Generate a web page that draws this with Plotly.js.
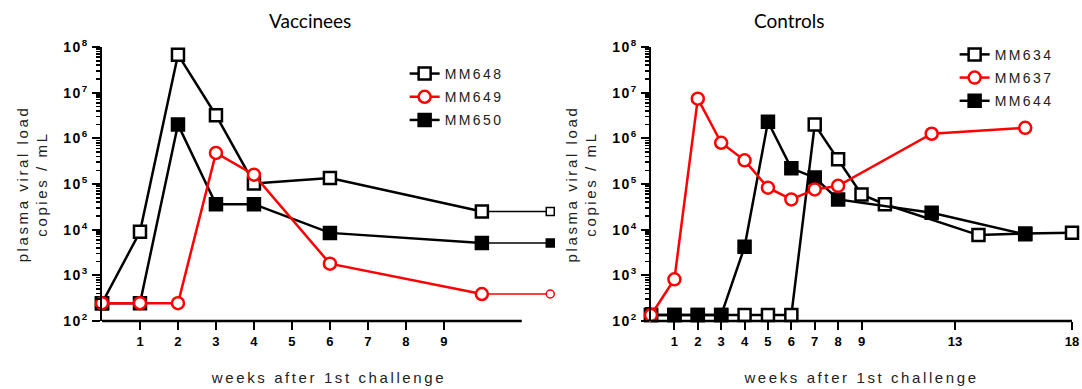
<!DOCTYPE html>
<html>
<head>
<meta charset="utf-8">
<script src="https://cdn.plot.ly/plotly-3.0.1.min.js"></script>
<style>
  html, body { margin: 0; padding: 0; background: #fff; }
  #chart { width: 1082px; height: 389px; }
  text.legendtext, .legend text, .legend2 text, g[class*="legend"] text { letter-spacing: 2.4px !important; }
  g.scrollbox, g[class*="legend"] g { clip-path: none !important; }
  .xtitle, .ytitle, .x2title, .y2title { letter-spacing: 2.6px; }
  .ytick text, .y2tick text { letter-spacing: 1.5px; }
</style>
</head>
<body>
<div id="chart"></div>
<script>
// ---------- data ----------
// Vaccinees (last week value is the thin extension point)
const vacWeeks = [0, 1, 2, 3, 4, 6, 10, 11.8];
const mm648 = [245, 9000, 68000000, 3200000, 103000, 135000, 25000, 25000];
const mm649 = [245, 245, 245, 480000, 160000, 1800, 390, 390];
const mm650 = [245, 245, 2000000, 36000, 36000, 8500, 5100, 5100];
const vacTickVals = [1, 2, 3, 4, 5, 6, 7, 8, 9];

// Controls
const weeks634 = [0, 1, 2, 3, 4, 5, 6, 7, 8, 9, 10, 14, 16, 18];
const mm634 = [135, 135, 135, 135, 135, 135, 135, 2000000, 350000, 59000, 36000, 7600, 8200, 8600];
const weeks637 = [0, 1, 2, 3, 4, 5, 6, 7, 8, 12, 16];
const mm637 = [135, 820, 7400000, 800000, 330000, 83000, 46000, 76000, 91000, 1260000, 1700000];
const weeks644 = [0, 1, 2, 3, 4, 5, 6, 7, 8, 12, 16];
const mm644 = [135, 135, 135, 135, 4200, 2300000, 220000, 138000, 46000, 23500, 7900];
const ctlTickVals = [1, 2, 3, 4, 5, 6, 7, 8, 9, 13, 18];

const yTickExps = [2, 3, 4, 5, 6, 7, 8];

// ---------- styling ----------
const FONT = "Liberation Sans, Arial, sans-serif";
const BLACK = "#000000", RED = "#ff0000";
const yTickVals = yTickExps.map(e => Math.pow(10, e));
const yTickText = yTickExps.map(e => "10<sup>" + e + "</sup>");
const yMinor = [];
yTickExps.slice(0, -1).forEach(e => { for (let k = 2; k <= 9; k++) yMinor.push(k * Math.pow(10, e)); });

function mk(symbol, color, size, lw) {
  const filled = symbol === "square";
  return { symbol: filled ? "square" : (symbol === "square-open" ? "square" : "circle"),
           size: size, color: filled ? color : "#ffffff", line: { color: color, width: lw } };
}
function mainTrace(name, x, y, color, symbol, xa, ya, legend, rank) {
  return {
    type: "scatter", mode: "lines+markers", name: name, x: x, y: y,
    xaxis: xa, yaxis: ya, legend: legend, legendgroup: name, legendrank: rank,
    cliponaxis: false,
    line: { color: color, width: 2.5 },
    marker: mk(symbol, color, 12, 2.5)
  };
}
function extTrace(name, x, y, color, symbol) {
  return {
    type: "scatter", mode: "lines+markers", name: name, x: x.slice(-2), y: y.slice(-2),
    xaxis: "x", yaxis: "y", showlegend: false, legendgroup: name, cliponaxis: false,
    line: { color: color, width: 1.5 },
    marker: mk(symbol, color, 8, 1.5)
  };
}

const data = [
  extTrace("MM648", vacWeeks, mm648, BLACK, "square-open"),
  extTrace("MM650", vacWeeks, mm650, BLACK, "square"),
  extTrace("MM649", vacWeeks, mm649, RED, "circle-open"),
  mainTrace("MM648", vacWeeks.slice(0, -1), mm648.slice(0, -1), BLACK, "square-open", "x", "y", "legend", 1),
  mainTrace("MM650", vacWeeks.slice(0, -1), mm650.slice(0, -1), BLACK, "square", "x", "y", "legend", 3),
  mainTrace("MM649", vacWeeks.slice(0, -1), mm649.slice(0, -1), RED, "circle-open", "x", "y", "legend", 2),
  mainTrace("MM634", weeks634, mm634, BLACK, "square-open", "x2", "y2", "legend2", 1),
  mainTrace("MM644", weeks644, mm644, BLACK, "square", "x2", "y2", "legend2", 3),
  mainTrace("MM637", weeks637, mm637, RED, "circle-open", "x2", "y2", "legend2", 2)
];

function yAxis(anchor) {
  return {
    type: "log", range: [2, 8], anchor: anchor,
    showgrid: false, zeroline: false, showline: true, linecolor: BLACK, linewidth: 2.5,
    ticks: "outside", ticklen: 8, tickwidth: 2, tickcolor: BLACK,
    tickvals: yTickVals, ticktext: yTickText,
    tickfont: { family: FONT, size: 14, color: BLACK, weight: "bold" },
    minor: { tickvals: yMinor, ticks: "outside", ticklen: 4, tickwidth: 1.5, tickcolor: BLACK },
    title: { text: "plasma viral load<br>copies / mL", font: { family: FONT, size: 15, color: "#222" }, standoff: 12 }
  };
}
function xAxis(domain, range, tickvals, anchor) {
  return {
    domain: domain, range: range, anchor: anchor,
    showgrid: false, zeroline: false, showline: false,
    ticks: "outside", ticklen: 8, tickwidth: 2, tickcolor: BLACK,
    tickvals: tickvals, ticktext: tickvals.map(String),
    tickfont: { family: FONT, size: 13, color: BLACK, weight: "bold" },
    title: { text: "weeks after 1st challenge", font: { family: FONT, size: 15, color: "#222" }, standoff: 24 }
  };
}

const legendBase = {
  font: { family: FONT, size: 14, color: "#222" },
  bgcolor: "rgba(0,0,0,0)", traceorder: "grouped", tracegroupgap: 2,
  xanchor: "left", yanchor: "top", itemwidth: 30
};

const layout = {
  width: 1082, height: 389,
  margin: { l: 102, r: 10, t: 47, b: 68 },
  paper_bgcolor: "#fff", plot_bgcolor: "#fff",
  showlegend: true,
  xaxis: xAxis([0, 0.468], [0, 11.95], vacTickVals, "y"),
  yaxis: yAxis("x"),
  xaxis2: xAxis([0.566, 1.0], [0, 18], ctlTickVals, "y2"),
  yaxis2: yAxis("x2"),
  legend: Object.assign({}, legendBase, { x: 0.312, y: 0.96 }),
  legend2: Object.assign({}, legendBase, { x: 0.879, y: 1.03 }),
  shapes: [
    { type: "line", xref: "x", yref: "y domain", x0: 0, x1: 11.05, y0: 0, y1: 0, line: { color: BLACK, width: 2.5 } },
    { type: "line", xref: "x2", yref: "y2 domain", x0: 0, x1: 18, y0: 0, y1: 0, line: { color: BLACK, width: 2.5 } }
  ],
  annotations: [
    { text: "Vaccinees", xref: "paper", yref: "paper", x: 0.2144, y: 1.0985, xanchor: "center", yanchor: "middle",
      showarrow: false, font: { family: "Lato, Open Sans, sans-serif", size: 19, color: BLACK } },
    { text: "Controls", xref: "paper", yref: "paper", x: 0.709, y: 1.0985, xanchor: "center", yanchor: "middle",
      showarrow: false, font: { family: "Lato, Open Sans, sans-serif", size: 19, color: BLACK } }
  ]
};

Plotly.newPlot("chart", data, layout, { displayModeBar: false, staticPlot: true });
</script>
</body>
</html>
